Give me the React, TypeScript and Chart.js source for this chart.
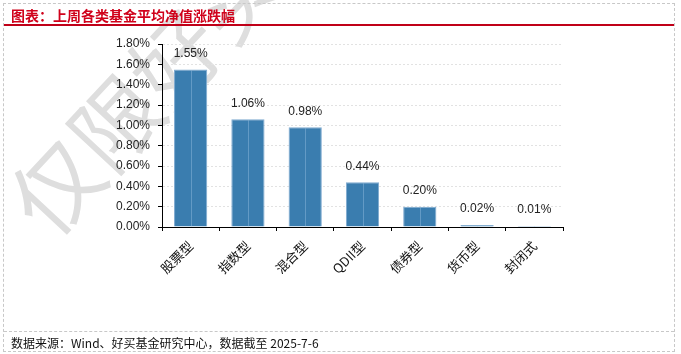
import React, { useEffect, useRef } from "react";
import { Chart, registerables } from "chart.js";

Chart.register(...registerables);

const categories = ["股票型", "指数型", "混合型", "QDII型", "债券型", "货币型", "封闭式"];
const values = [1.55, 1.06, 0.98, 0.44, 0.2, 0.02, 0.01];
const yTicks = [0, 0.2, 0.4, 0.6, 0.8, 1.0, 1.2, 1.4, 1.6, 1.8];
const title = "图表：上周各类基金平均净值涨跌幅";
const source = "数据来源：Wind、好买基金研究中心，数据截至 2025-7-6";
const watermark = "仅限好买";

const barDecor = {
  id: "barDecor",
  afterDatasetsDraw(chart: any) {
    const ctx = chart.ctx;
    const meta = chart.getDatasetMeta(0);
    ctx.save();
    meta.data.forEach((bar: any, i: number) => {
      const v = chart.data.datasets[0].data[i];
      ctx.strokeStyle = "rgba(150,190,225,0.45)";
      ctx.lineWidth = 1;
      ctx.beginPath();
      ctx.moveTo(Math.round(bar.x) + 0.5, bar.y + 1);
      ctx.lineTo(Math.round(bar.x) + 0.5, bar.base);
      ctx.stroke();
      ctx.fillStyle = "#222";
      ctx.font = "12px 'Liberation Sans', Arial, sans-serif";
      ctx.textAlign = "center";
      ctx.textBaseline = "middle";
      ctx.fillText(v.toFixed(2) + "%", bar.x, bar.y - 16);
    });
    ctx.restore();
  },
};

export default function App() {
  const ref = useRef<HTMLCanvasElement>(null);
  useEffect(() => {
    document.body.style.margin = "0";
    const chart = new Chart(ref.current!, {
      type: "bar",
      data: {
        labels: categories,
        datasets: [
          {
            data: values,
            backgroundColor: "#3A7DAF",
            borderColor: "#7FAAD0",
            borderWidth: 1,
            categoryPercentage: 1,
            barPercentage: 0.58,
          },
        ],
      },
      options: {
        responsive: false,
        animation: false,
        events: [],
        layout: { padding: { left: 102, right: 118, top: 44, bottom: 67 } },
        plugins: { legend: { display: false }, tooltip: { enabled: false } },
        scales: {
          x: {
            afterFit: (s: any) => {
              s.height = 60;
            },
            grid: {
              drawOnChartArea: false,
              tickLength: 4,
              tickColor: "#000",
              offset: true,
            },
            border: { color: "#000", width: 1 },
            ticks: {
              minRotation: 45,
              maxRotation: 45,
              autoSkip: false,
              padding: 7,
              color: "#111",
              font: { family: "'Noto Sans CJK SC', sans-serif", size: 13 },
            },
          },
          y: {
            min: 0,
            max: 1.8,
            afterFit: (s: any) => {
              s.width = 60;
            },
            afterBuildTicks: (s: any) => {
              s.ticks = yTicks.map((v) => ({ value: v }));
            },
            grid: {
              color: "#e2e2e2",
              tickColor: "#000",
              tickLength: 4,
            },
            border: { color: "#000", width: 1, dash: [2, 2] },
            ticks: {
              padding: 8,
              color: "#222",
              font: { family: "'Liberation Sans', Arial, sans-serif", size: 12 },
              callback: (v: any) => Number(v).toFixed(2) + "%",
            },
          },
        },
      },
      plugins: [barDecor],
    });
    return () => chart.destroy();
  }, []);

  return (
    <div
      style={{
        position: "relative",
        width: 681,
        height: 354,
        overflow: "hidden",
        background: "#fff",
      }}
    >
      <div
        style={{
          position: "absolute",
          left: 23,
          top: 172,
          height: 88,
          lineHeight: "88px",
          fontSize: 88,
          fontFamily: "'Noto Sans CJK SC', sans-serif",
          color: "#dedede",
          whiteSpace: "nowrap",
          transformOrigin: "0 50%",
          transform: "rotate(-47deg)",
        }}
      >
        {watermark}
      </div>
      <canvas
        ref={ref}
        width={681}
        height={354}
        style={{ position: "absolute", left: 0, top: 0 }}
      />
      <div
        style={{
          position: "absolute",
          left: 3,
          top: 3,
          width: 670,
          height: 347,
          border: "1px dashed #c8c8c8",
        }}
      />
      <div
        style={{
          position: "absolute",
          left: 11,
          top: 5,
          fontSize: 14,
          fontWeight: "bold",
          lineHeight: "20px",
          color: "#D0021B",
          fontFamily: "'Noto Sans CJK SC', sans-serif",
          whiteSpace: "nowrap",
        }}
      >
        {title}
      </div>
      <div
        style={{
          position: "absolute",
          left: 4,
          top: 24,
          width: 670,
          height: 2,
          background: "#C00018",
        }}
      />
      <div
        style={{
          position: "absolute",
          left: 4,
          top: 331,
          width: 670,
          height: 0,
          borderTop: "1px dashed #c8c8c8",
        }}
      />
      <div
        style={{
          position: "absolute",
          left: 11,
          top: 334,
          fontSize: 12,
          lineHeight: "18px",
          color: "#111",
          fontFamily: "'Noto Sans CJK SC', sans-serif",
          whiteSpace: "nowrap",
        }}
      >
        {source}
      </div>
    </div>
  );
}
